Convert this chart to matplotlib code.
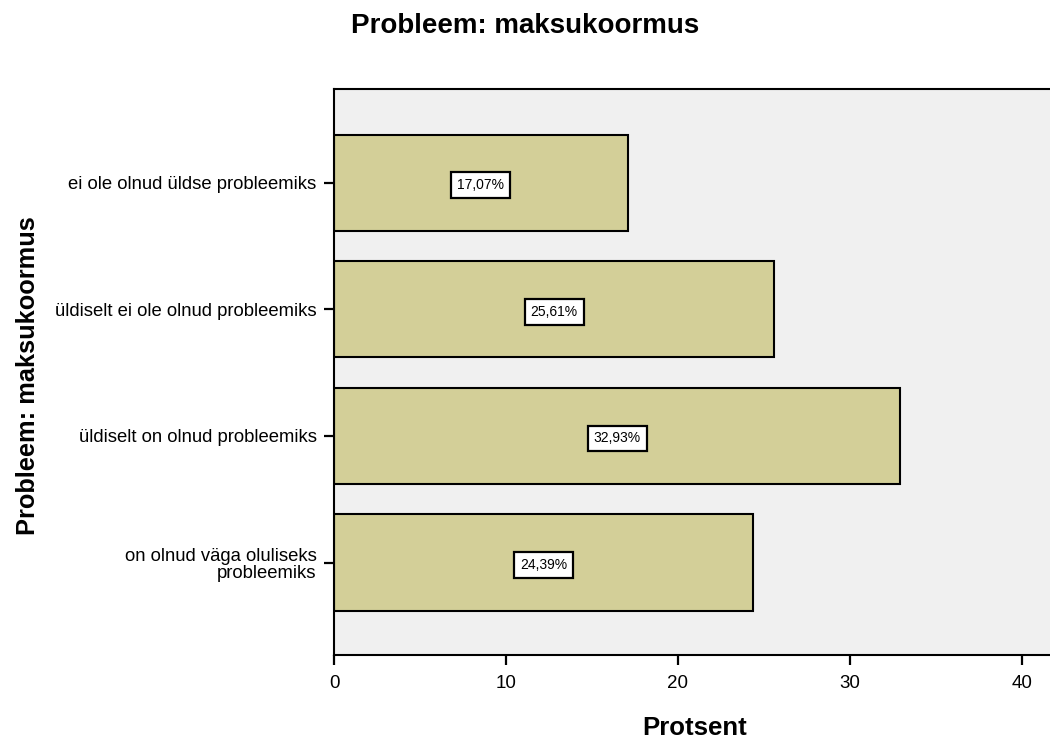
import matplotlib.pyplot as plt
import numpy as np

plt.rcParams['font.family'] = ['Liberation Sans', 'DejaVu Sans']

categories = [
    'ei ole olnud üldse probleemiks',
    'üldiselt ei ole olnud probleemiks',
    'üldiselt on olnud probleemiks',
    'on olnud väga oluliseks\nprobleemiks',
]
percents = [17.07, 25.61, 32.93, 24.39]
x_ticks = [0, 10, 20, 30, 40]

W, H = 1050, 739
fig = plt.figure(figsize=(W / 100, H / 100), dpi=100)
ax = fig.add_axes([334 / W, 1 - 655 / H, 1 - 334 / W, (655 - 89) / H])
ax.set_facecolor('#f0f0f0')

pos = np.arange(len(categories))
ax.barh(pos, percents, height=0.76, color='#d3cf98', edgecolor='black', linewidth=1.5)

for p, v in zip(pos, percents):
    ax.text(v / 2, p + 0.02, f'{v:.2f}%'.replace('.', ','), ha='center', va='center', fontsize=10,
            bbox=dict(boxstyle='square,pad=0.42', facecolor='white', edgecolor='black', linewidth=1.6))

ax.set_ylim(3.73, -0.74)
ax.set_xlim(0, 41.63)
ax.set_yticks(pos)
ax.set_yticklabels(categories, fontsize=13.3, ha='right', linespacing=1.0)
ax.set_xticks(x_ticks)
ax.set_xticklabels([str(t) for t in x_ticks], fontsize=13.5)
ax.tick_params(axis='both', direction='out', length=7.5, width=1.6, colors='black')
ax.tick_params(axis='y', pad=5)
ax.tick_params(axis='x', pad=7)

ax.spines['right'].set_visible(False)
for s in ['left', 'bottom', 'top']:
    ax.spines[s].set_linewidth(1.5)

fig.text(525 / W, 1 - 33 / H, 'Probleem: maksukoormus', ha='center', va='baseline',
         fontsize=20, fontweight='bold')
fig.text(695 / W, 1 - 735 / H, 'Protsent', ha='center', va='baseline',
         fontsize=18.5, fontweight='bold')
fig.text(35 / W, 1 - 376 / H, 'Probleem: maksukoormus', ha='center', va='baseline',
         rotation=90, rotation_mode='anchor', fontsize=18.3, fontweight='bold')

fig.savefig('out.png', dpi=100)
